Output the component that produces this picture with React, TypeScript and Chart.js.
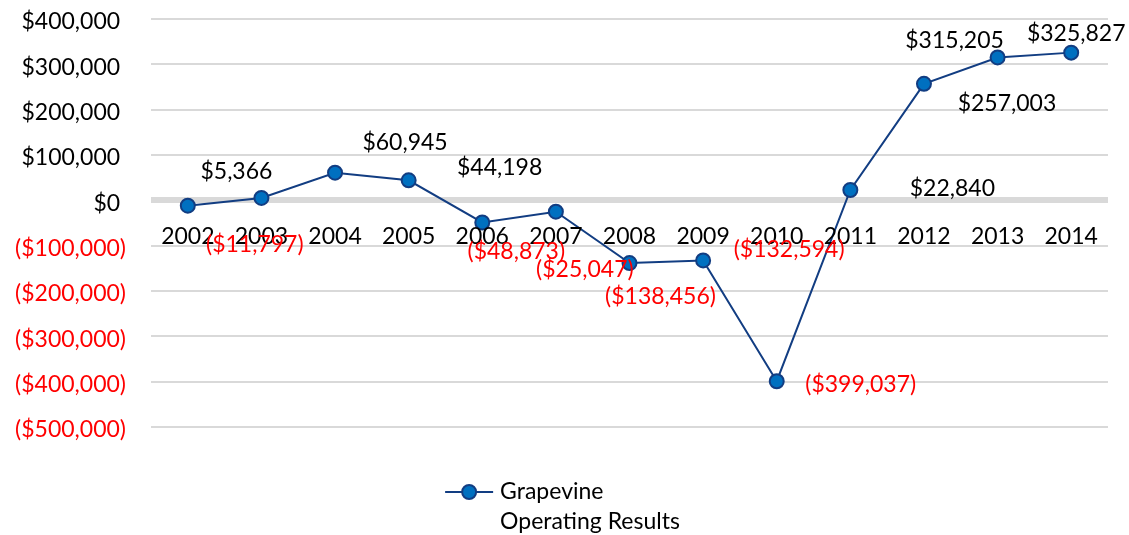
import React, { useEffect, useRef } from 'react';
import { Chart, registerables } from 'chart.js';

Chart.register(...registerables);

// ---- data ----
const years = ['2002', '2003', '2004', '2005', '2006', '2007', '2008', '2009', '2010', '2011', '2012', '2013', '2014'];
const operatingResults = [-11797, 5366, 60945, 44198, -48873, -25047, -138456, -132594, -399037, 22840, 257003, 315205, 325827];
const seriesNameLines = ['Grapevine', 'Operating Results'];
const yMin = -500000;
const yMax = 400000;
const yStep = 100000;

// ---- label placement (style: offsets from each point, px) ----
const labelDx = [67, -25, 70, 91, 34, 29, 31, 86, 84, 102, 83, -43, 5];
const labelDy = [39, -26, -30, -13, 29, 58, 33, -11, 3, -1, 20, -17, -19];

const W = 1129;
const H = 535;
const FONT = 'Lato, "Open Sans", sans-serif';
const FONT_SIZE = 23;
const NAVY = '#123d82';
const MARKER_FILL = '#0070c0';
const NEG_RED = '#ff0000';

function fmtMoney(v: number): string {
  const s = '$' + Math.abs(v).toLocaleString('en-US');
  return v < 0 ? '(' + s + ')' : s;
}

// category labels drawn just under the zero line, from the x scale
const yearLabelPlugin = {
  id: 'yearLabels',
  afterDatasetsDraw(chart: any) {
    const ctx = chart.ctx;
    const xs = chart.scales.x;
    const ys = chart.scales.y;
    const y0 = ys.getPixelForValue(0) + 36;
    ctx.save();
    ctx.font = `${FONT_SIZE}px ${FONT}`;
    ctx.textAlign = 'center';
    ctx.textBaseline = 'middle';
    ctx.fillStyle = '#000000';
    years.forEach((yr, i) => {
      ctx.fillText(yr, xs.getPixelForValue(i), y0);
    });
    ctx.restore();
  },
};

const dataLabelPlugin = {
  id: 'dataLabels',
  afterDatasetsDraw(chart: any) {
    const ctx = chart.ctx;
    const meta = chart.getDatasetMeta(0);
    ctx.save();
    ctx.font = `${FONT_SIZE}px ${FONT}`;
    ctx.textAlign = 'center';
    ctx.textBaseline = 'middle';
    meta.data.forEach((pt: any, i: number) => {
      const v = operatingResults[i];
      ctx.fillStyle = v < 0 ? NEG_RED : '#000000';
      ctx.fillText(fmtMoney(v), pt.x + labelDx[i], pt.y + labelDy[i]);
    });
    ctx.restore();
  },
};

const legendPlugin = {
  id: 'customLegend',
  afterDraw(chart: any) {
    const ctx = chart.ctx;
    ctx.save();
    ctx.font = `${FONT_SIZE}px ${FONT}`;
    const textW = Math.max(...seriesNameLines.map((s) => ctx.measureText(s).width));
    const lineLen = 48;
    const gap = 7;
    const total = lineLen + gap + textW;
    const x0 = (chart.width - total) / 2 - 2;
    const y0 = chart.chartArea.bottom + 65;
    ctx.strokeStyle = NAVY;
    ctx.lineWidth = 2;
    ctx.beginPath();
    ctx.moveTo(x0, y0);
    ctx.lineTo(x0 + lineLen, y0);
    ctx.stroke();
    ctx.beginPath();
    ctx.arc(x0 + lineLen / 2, y0, 7, 0, Math.PI * 2);
    ctx.fillStyle = MARKER_FILL;
    ctx.fill();
    ctx.lineWidth = 2;
    ctx.stroke();
    ctx.fillStyle = '#000000';
    ctx.textAlign = 'left';
    ctx.textBaseline = 'middle';
    seriesNameLines.forEach((s, i) => {
      ctx.fillText(s, x0 + lineLen + gap, y0 + i * 30);
    });
    ctx.restore();
  },
};

export default function App() {
  const canvasRef = useRef<HTMLCanvasElement | null>(null);

  useEffect(() => {
    const canvas = canvasRef.current;
    if (!canvas) return;
    const chart = new Chart(canvas, {
      type: 'line',
      data: {
        labels: years,
        datasets: [
          {
            label: seriesNameLines.join(' '),
            data: operatingResults,
            borderColor: NAVY,
            borderWidth: 2,
            backgroundColor: MARKER_FILL,
            pointBackgroundColor: MARKER_FILL,
            pointBorderColor: NAVY,
            pointBorderWidth: 2,
            pointRadius: 7,
            tension: 0,
            fill: false,
          },
        ],
      },
      options: {
        responsive: false,
        animation: false,
        layout: { padding: { top: 19, right: 21, bottom: 108, left: 0 } },
        plugins: {
          legend: { display: false },
          tooltip: { enabled: false },
        },
        scales: {
          x: {
            type: 'category',
            offset: true,
            grid: { display: false, drawTicks: false },
            border: { display: false },
            ticks: { display: false },
            afterFit: (scale: any) => {
              scale.height = 0;
            },
          },
          y: {
            min: yMin,
            max: yMax,
            grid: {
              color: '#d9d9d9',
              lineWidth: (c: any) => (c.tick && c.tick.value === 0 ? 6 : 2),
              drawTicks: false,
            },
            border: { display: false },
            ticks: {
              stepSize: yStep,
              padding: 25,
              labelOffset: 3,
              font: { family: FONT, size: FONT_SIZE, lineHeight: 1 },
              color: (c: any) => (c.tick && c.tick.value < 0 ? NEG_RED : '#000000'),
              callback: (v: any) => {
                const n = Number(v);
                return n < 0 ? fmtMoney(n) : fmtMoney(n) + ' ';
              },
            },
            afterFit: (scale: any) => {
              scale.width = 151;
              scale.paddingTop = 10;
              scale.paddingBottom = 10;
            },
          },
        },
      },
      plugins: [yearLabelPlugin, dataLabelPlugin, legendPlugin],
    });
    return () => chart.destroy();
  }, []);

  return (
    <div style={{ position: 'fixed', left: 0, top: 0, width: W, height: H }}>
      <canvas ref={canvasRef} width={W} height={H} style={{ display: 'block' }} />
    </div>
  );
}
